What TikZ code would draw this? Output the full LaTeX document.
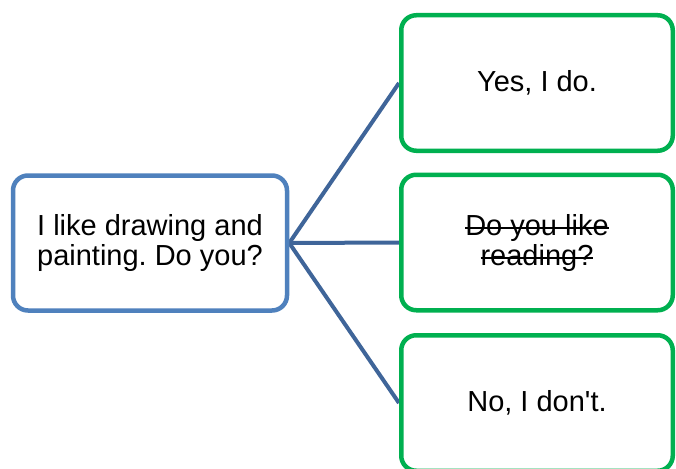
\documentclass[tikz,border=0pt]{standalone}
\usepackage{fontspec}
\setmainfont{Liberation Sans}[Ligatures=TeXOff]
\newcommand\strikeme[1]{\setbox0=\hbox{#1}\rlap{\rule[6.5pt]{\wd0}{1.4pt}}\box0}
\usetikzlibrary{backgrounds}
\definecolor{boxblue}{HTML}{4F81BD}
\definecolor{linkblue}{HTML}{3F6599}
\definecolor{boxgreen}{HTML}{00B050}
\tikzset{
  box/.style={draw, line width=4.5pt, rounded corners=15pt, fill=white,
    align=center, inner sep=0pt,
    font=\fontsize{29}{30}\selectfont\frenchspacing},
  leftbox/.style={box, draw=boxblue, minimum width=274pt, minimum height=135pt},
  rightbox/.style={box, draw=boxgreen, minimum width=271.5pt, minimum height=135.5pt},
  link/.style={draw=linkblue, line width=4pt}
}
\begin{document}
\begin{tikzpicture}[x=1pt,y=-1pt]
\clip (0,0) rectangle (676,468);
\node[leftbox] (L) at (150,243) {I like drawing and\\painting. Do you?};
\node[rightbox] (A) at (537,83) {Yes, I do.};
\node[rightbox] (B) at (537,242.5) {\strikeme{Do you like}\\\strikeme{reading?}};
\node[rightbox] (C) at (537,403) {No, I don't.};
\begin{pgfonlayer}{background}
\draw[link] (L.east) -- (A.west);
\draw[link] (L.east) -- (B.west);
\draw[link] (L.east) -- (C.west);
\end{pgfonlayer}
\end{tikzpicture}
\end{document}
